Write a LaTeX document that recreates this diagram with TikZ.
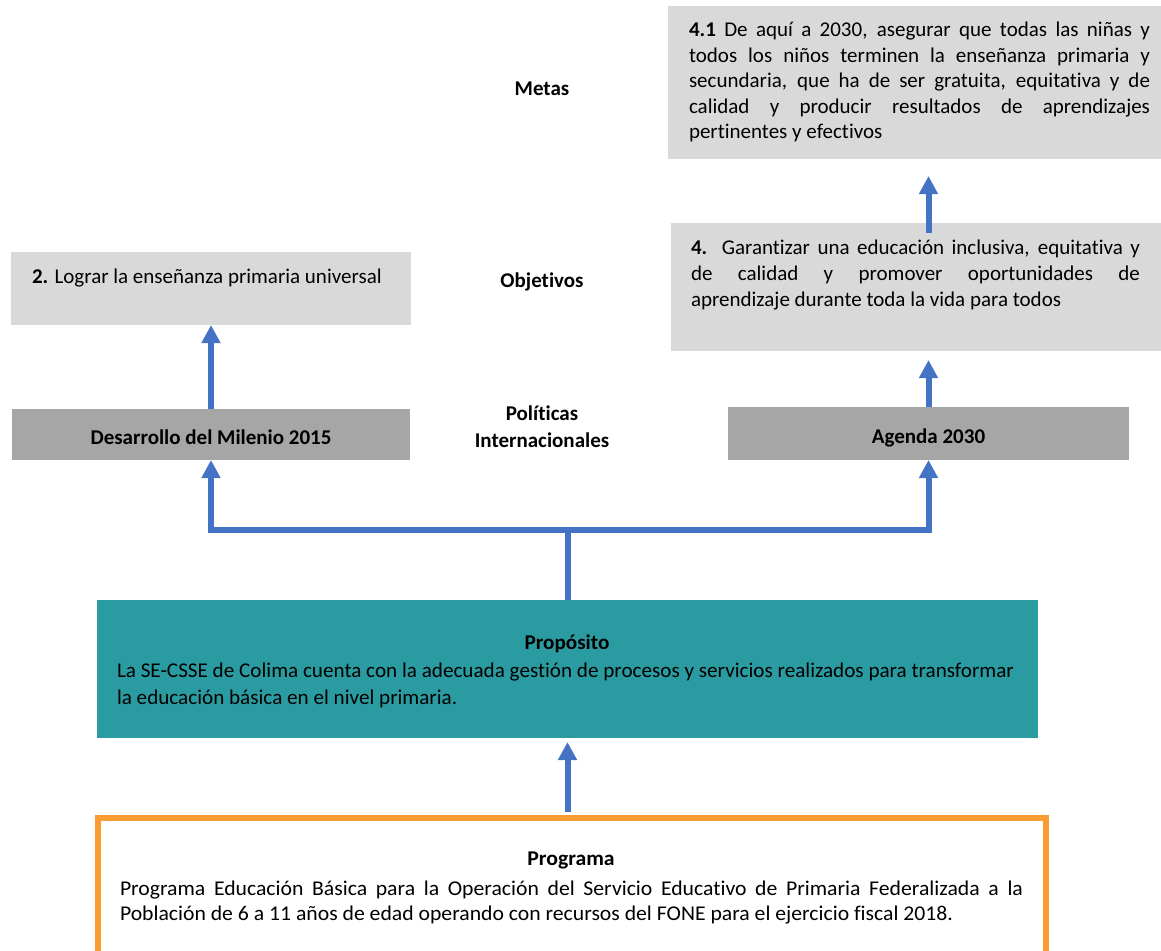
\documentclass[tikz,border=0pt]{standalone}
\usepackage{fontspec}
\setmainfont{Carlito}[Ligatures=NoCommon]
\usepackage{graphicx}
\usetikzlibrary{arrows.meta}
\definecolor{lgray}{HTML}{D9D9D9}
\definecolor{dgray}{HTML}{A6A6A6}
\definecolor{arrowblue}{HTML}{4472C4}
\definecolor{tealbox}{HTML}{2A9BA0}
\definecolor{orangeb}{HTML}{F99D33}
\newsavebox\propA
\newsavebox\progB
\newdimen\tmpd
\newcommand\jl[2]{\makebox[#1][s]{#2}}
\tikzset{
  box/.style={rectangle, inner sep=0pt, outer sep=0pt},
  lightbox/.style={box, fill=lgray},
  darkbox/.style={box, fill=dgray, font=\fontsize{21}{24}\selectfont\bfseries, text height=19pt, text depth=0pt},
  txt/.style={inner sep=0pt, outer sep=0pt, font=\fontsize{21}{24}\selectfont, align=left},
  lbl/.style={inner sep=0pt, font=\fontsize{21}{27}\selectfont\bfseries, align=center},
  arr/.style={draw=arrowblue, line width=6pt, -{Triangle[length=18pt,width=18pt]}},
  conn/.style={draw=arrowblue, line width=6pt},
}
\begin{document}
\sbox\propA{\fontsize{21}{24}\selectfont La SE-CSSE de Colima cuenta con la adecuada gestión de procesos y servicios realizados para transformar}%
\global\tmpd=\wd\propA
\pgfmathsetmacro\fA{897/\tmpd}%
\global\let\fA\fA
\sbox\progB{\fontsize{21}{24}\selectfont Población de 6 a 11 años de edad operando con recursos del FONE para el ejercicio fiscal 2018.}%
\global\tmpd=\wd\progB
\pgfmathsetmacro\fB{833/\tmpd}%
\global\let\fB\fB
\pgfmathsetlengthmacro\wB{903/\fB}%
\global\let\wB\wB
\begin{tikzpicture}[x=1pt,y=-1pt]
\useasboundingbox (0,0) rectangle (1161,950);

% boxes
\node[lightbox, minimum width=493pt, minimum height=153pt] (metas) at (914.5,82.5) {};
\node[lightbox, minimum width=490pt, minimum height=128pt] (robj) at (916,287) {};
\node[lightbox, minimum width=400pt, minimum height=73pt] (lobj) at (211,288.5) {};
\node[darkbox, minimum width=398pt, minimum height=51pt] (des) at (211,434.5) {Desarrollo del Milenio 2015};
\node[darkbox, minimum width=401pt, minimum height=53pt] (ag) at (928.5,433.5) {Agenda 2030};
\node[box, fill=tealbox, minimum width=941pt, minimum height=138pt] (prop) at (567.5,669) {};
\node[box, draw=orangeb, line width=6pt, minimum width=948pt, minimum height=142pt] (prog) at (572,889) {};

% texts
\node[txt, anchor=north west, font=\fontsize{21}{25.5}\selectfont] (metastxt) at (689,22) {%
\jl{461pt}{\textbf{4.1} De aquí a 2030, asegurar que todas las niñas y}\\
\jl{461pt}{todos los niños terminen la enseñanza primaria y}\\
\jl{461pt}{secundaria, que ha de ser gratuita, equitativa y de}\\
\jl{461pt}{calidad y producir resultados de aprendizajes}\\
pertinentes y efectivos};
\node[txt, anchor=north west, font=\fontsize{21}{26}\selectfont] (robjtxt) at (691,240) {%
\jl{449pt}{\textbf{4.} Garantizar una educación inclusiva, equitativa y}\\
\jl{449pt}{de calidad y promover oportunidades de}\\
aprendizaje durante toda la vida para todos};
\node[txt, anchor=base west] (lobjtxt) at (32,283) {\textbf{2.} Lograr la enseñanza primaria universal};

\node[lbl] (lmetas) at (542,89) {Metas};
\node[lbl] (lobjs) at (542,282) {Objetivos};
\node[lbl] (lpol) at (542,426.5) {Políticas\\Internacionales};

\node[txt, font=\fontsize{21}{24}\selectfont\bfseries] (proptit) at (567,644) {\scalebox{\fA}[1]{Propósito}};
\node[txt, anchor=north west, font=\fontsize{21}{27}\selectfont] (proptxt) at (117,663) {%
\scalebox{\fA}[1]{\usebox\propA}\\
\scalebox{\fA}[1]{la educación básica en el nivel primaria.}};

\node[txt, font=\fontsize{21}{24}\selectfont\bfseries] (progtit) at (571,860) {\scalebox{\fB}[1]{Programa}};
\node[txt, anchor=north west, font=\fontsize{21}{25}\selectfont] (progtxt) at (120,881) {%
\scalebox{\fB}[1]{\makebox[\wB][s]{Programa Educación Básica para la Operación del Servicio Educativo de Primaria Federalizada a la}}\\
\scalebox{\fB}[1]{\usebox\progB}};

% connectors
\coordinate (j) at (567.5,530);
\draw[conn] (prop.north) -- (j);
\draw[arr] (j) -| (des.south);
\draw[arr] (j) -| (ag.south);
\draw[arr] (des.north) -- (lobj.south);
\draw[arr, shorten >=9pt] (ag.north) -- (ag.north |- robj.south);
\draw[arr, shorten <=-10pt, shorten >=17pt] (ag.north |- robj.north) -- (ag.north |- metas.south);
\draw[arr, shorten <=6pt, shorten >=4pt] (prop.south |- prog.north) -- (prop.south);
\end{tikzpicture}
\end{document}
